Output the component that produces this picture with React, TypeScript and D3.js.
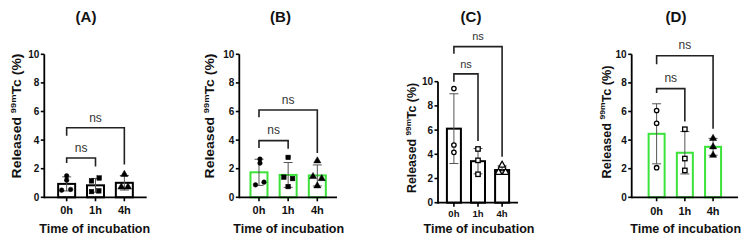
import React from "react";
import * as d3 from "d3";

// ---------- data ----------
const categories = ["0h", "1h", "4h"];
const yTicks = [0, 2, 4, 6, 8, 10];
const panelLetters = ["(A)", "(B)", "(C)", "(D)"];
const xTitle = "Time of incubation";
const sigLabel = "ns";

// replicate values per time point (%)
const pointsA = [[1.5, 1.2, 0.5, 0.55], [1.35, 1.15, 0.4, 0.45], [1.6, 0.72, 0.72]];
const pointsB = [[2.67, 2.39, 0.87, 1.06], [2.79, 1.41, 1.31, 0.75], [2.55, 1.45, 1.31, 0.8]];
const pointsC = [[9.43, 4.77, 4.16], [4.44, 3.5, 2.35], [3.1, 2.5, 2.5]];
const pointsD = [[6.07, 5.18, 2.07], [4.76, 2.71, 1.88], [4.12, 3.53, 2.94]];

// significance brackets: [from, to, level, leftLegEnd, rightLegEnd]
const bracketsA: [string, string, number, number, number][] = [["0h", "1h", 2.75, 2.4, 2.15], ["0h", "4h", 4.86, 4.3, 2.3]];
const bracketsB: [string, string, number, number, number][] = [["0h", "1h", 3.96, 3.45, 3.4], ["0h", "4h", 6.1, 5.6, 3.1]];
const bracketsC: [string, string, number, number, number][] = [["0h", "1h", 10.65, 10.0, 5.1], ["0h", "4h", 12.9, 12.3, 3.8]];
const bracketsD: [string, string, number, number, number][] = [["0h", "1h", 7.6, 7.3, 5.3], ["0h", "4h", 9.9, 9.3, 4.8]];

// ---------- styles / layout ----------
const GREEN = "#3ae23a";
const FONT = "'Liberation Sans', Arial, Helvetica, sans-serif";

// horizontal jitter of replicate markers (px)
const jitterA = [[0, 0, -5, 4], [3.7, -4, -4, 3.3], [0, -3, 3.6]];
const jitterB = [[1, 1, -3.5, 5], [0, -4.3, 4.4, 0], [0, -4.3, 4.4, 0]];
const jitterC = [[0, 0, 0], [0, 0, 0], [0, -3.5, 3.5]];
const jitterD = [[0, 0, 0], [0, 0, 0], [0, 0, 0]];

type Panel = {
  letter: string;
  points: number[][];
  jitter: number[][];
  brackets: [string, string, number, number, number][];
  barColor: string;
  hollow: boolean[];
  x0: number; x1: number; pad: number;
  yBottom: number; yTop: number;
  barW: number;
  titleX: number;
  yTitleX: number; yTitleY: number; yTitleLen: number;
  xTitleX: number; xTitleY: number;
  tickLabelY: number; tickLabelSize: number;
  nsSize: number;
};

const panels: Panel[] = [
  {
    letter: panelLetters[0], points: pointsA, jitter: jitterA, brackets: bracketsA, barColor: "#000",
    hollow: [false, false, false],
    x0: 44.3, x1: 146.7, pad: 0.775, yBottom: 197.3, yTop: 54.3, barW: 17,
    titleX: 86, yTitleX: 17, yTitleY: 116, yTitleLen: 125, xTitleX: 94.7, xTitleY: 233, tickLabelY: 214, tickLabelSize: 11, nsSize: 12,
  },
  {
    letter: panelLetters[1], points: pointsB, jitter: jitterB, brackets: bracketsB, barColor: GREEN,
    hollow: [false, false, false],
    x0: 239.3, x1: 337, pad: 0.675, yBottom: 197.3, yTop: 54.3, barW: 17,
    titleX: 280.5, yTitleX: 210, yTitleY: 116, yTitleLen: 125, xTitleX: 288.7, xTitleY: 233, tickLabelY: 214, tickLabelSize: 11, nsSize: 12,
  },
  {
    letter: panelLetters[2], points: pointsC, jitter: jitterC, brackets: bracketsC, barColor: "#000",
    hollow: [true, true, true],
    x0: 438, x1: 518, pad: 0.66, yBottom: 202.7, yTop: 81.7, barW: 14,
    titleX: 471, yTitleX: 412, yTitleY: 138, yTitleLen: 110, xTitleX: 479, xTitleY: 233, tickLabelY: 216.5, tickLabelSize: 9.5, nsSize: 11,
  },
  {
    letter: panelLetters[3], points: pointsD, jitter: jitterD, brackets: bracketsD, barColor: GREEN,
    hollow: [true, true, false],
    x0: 631.7, x1: 738, pad: 0.883, yBottom: 197.3, yTop: 54.3, barW: 16,
    titleX: 676, yTitleX: 606.7, yTitleY: 122, yTitleLen: 113, xTitleX: 685.7, xTitleY: 233, tickLabelY: 215, tickLabelSize: 11, nsSize: 12,
  },
];

function Marker({ kind, cx, cy, hollow }: { kind: number; cx: number; cy: number; hollow: boolean }) {
  const fill = hollow ? "#fff" : "#000";
  const sw = hollow ? 1.3 : 0.5;
  if (kind === 0) return <circle cx={cx} cy={cy} r={hollow ? 2.2 : 2.3} fill={fill} stroke="#000" strokeWidth={sw} />;
  if (kind === 1) {
    const s = hollow ? 4.4 : 4.6;
    return <rect x={cx - s / 2} y={cy - s / 2} width={s} height={s} fill={fill} stroke="#000" strokeWidth={sw} />;
  }
  const sym = d3.symbol(d3.symbolTriangle, hollow ? 20 : 22)();
  return <path d={sym || ""} transform={`translate(${cx},${cy})`} fill={fill} stroke="#000" strokeWidth={sw} />;
}

function PanelView({ p }: { p: Panel }) {
  const x = d3.scalePoint<string>().domain(categories).range([p.x0, p.x1]).padding(p.pad);
  const y = d3.scaleLinear().domain([0, 10]).range([p.yBottom, p.yTop]);
  const stats = p.points.map((vals) => {
    const m = d3.mean(vals) as number;
    const sd = d3.deviation(vals) as number;
    return { m, sd };
  });
  return (
    <g>
      <text x={p.titleX} y={21.5} textAnchor="middle" fontFamily={FONT} fontWeight="bold" fontSize={15} fill="#111">
        {p.letter}
      </text>
      {categories.map((c, i) => {
        const cx = x(c) as number;
        const top = y(stats[i].m);
        return (
          <rect key={"b" + c} x={cx - p.barW / 2} y={top} width={p.barW} height={y(0) - top}
            fill="none" stroke={p.barColor} strokeWidth={2} />
        );
      })}
      {categories.map((c, i) => {
        const cx = x(c) as number;
        const hi = y(stats[i].m + stats[i].sd);
        const lo = y(stats[i].m - stats[i].sd);
        return (
          <g key={"e" + c} stroke="#555" strokeWidth={1}>
            <line x1={cx} x2={cx} y1={hi} y2={lo} />
            <line x1={cx - 4.5} x2={cx + 4.5} y1={hi} y2={hi} />
            <line x1={cx - 4.5} x2={cx + 4.5} y1={lo} y2={lo} />
          </g>
        );
      })}
      {categories.map((c, i) =>
        p.points[i].map((v, j) => (
          <Marker key={"p" + c + j} kind={i} cx={(x(c) as number) + p.jitter[i][j]} cy={y(v)} hollow={p.hollow[i]} />
        ))
      )}
      <line x1={p.x0} x2={p.x0} y1={y(0) + 1} y2={y(10)} stroke="#000" strokeWidth={1.8} />
      <line x1={p.x0} x2={p.x1} y1={y(0)} y2={y(0)} stroke="#000" strokeWidth={1.8} />
      {yTicks.map((t) => (
        <g key={"yt" + t}>
          <line x1={p.x0 - 3.5} x2={p.x0} y1={y(t)} y2={y(t)} stroke="#000" strokeWidth={1.6} />
          <text x={p.x0 - 5} y={y(t)} dy="0.35em" textAnchor="end" fontFamily={FONT} fontWeight="bold" fontSize={10} fill="#111">
            {t}
          </text>
        </g>
      ))}
      {categories.map((c) => (
        <g key={"xt" + c}>
          <line x1={x(c) as number} x2={x(c) as number} y1={y(0)} y2={y(0) + 4} stroke="#000" strokeWidth={1.6} />
          <text x={x(c) as number} y={p.tickLabelY} textAnchor="middle" fontFamily={FONT} fontWeight="bold" fontSize={p.tickLabelSize} fill="#111">
            {c}
          </text>
        </g>
      ))}
      {p.brackets.map(([a, b, lvl, le, re], k) => {
        const xa = x(a) as number;
        const xb = x(b) as number;
        const yl = y(lvl);
        return (
          <g key={"br" + k}>
            <path d={`M${xa},${y(le)}V${yl}H${xb}V${y(re)}`} fill="none" stroke="#222" strokeWidth={1.6} />
            <text x={(xa + xb) / 2} y={yl - 6.3} textAnchor="middle" fontFamily={FONT} fontSize={p.nsSize} fill="#333">
              {sigLabel}
            </text>
          </g>
        );
      })}
      <text transform={`translate(${p.yTitleX},${p.yTitleY}) rotate(-90)`} textAnchor="middle" dominantBaseline="central"
        fontFamily={FONT} fontWeight="bold" fontSize={12} fill="#111" textLength={p.yTitleLen} lengthAdjust="spacingAndGlyphs">
        Released <tspan fontSize={8} dy={-4.5}>99m</tspan><tspan dy={4.5}>Tc (%)</tspan>
      </text>
      <text x={p.xTitleX} y={p.xTitleY} textAnchor="middle" fontFamily={FONT} fontWeight="bold" fontSize={12.5} fill="#111">
        {xTitle}
      </text>
    </g>
  );
}

export default function App() {
  return (
    <svg width={742} height={244} style={{ position: "absolute", left: 0, top: 0, background: "#fff" }}>
      <rect width={742} height={244} fill="#fff" />
      {panels.map((p) => (
        <PanelView key={p.letter} p={p} />
      ))}
    </svg>
  );
}
